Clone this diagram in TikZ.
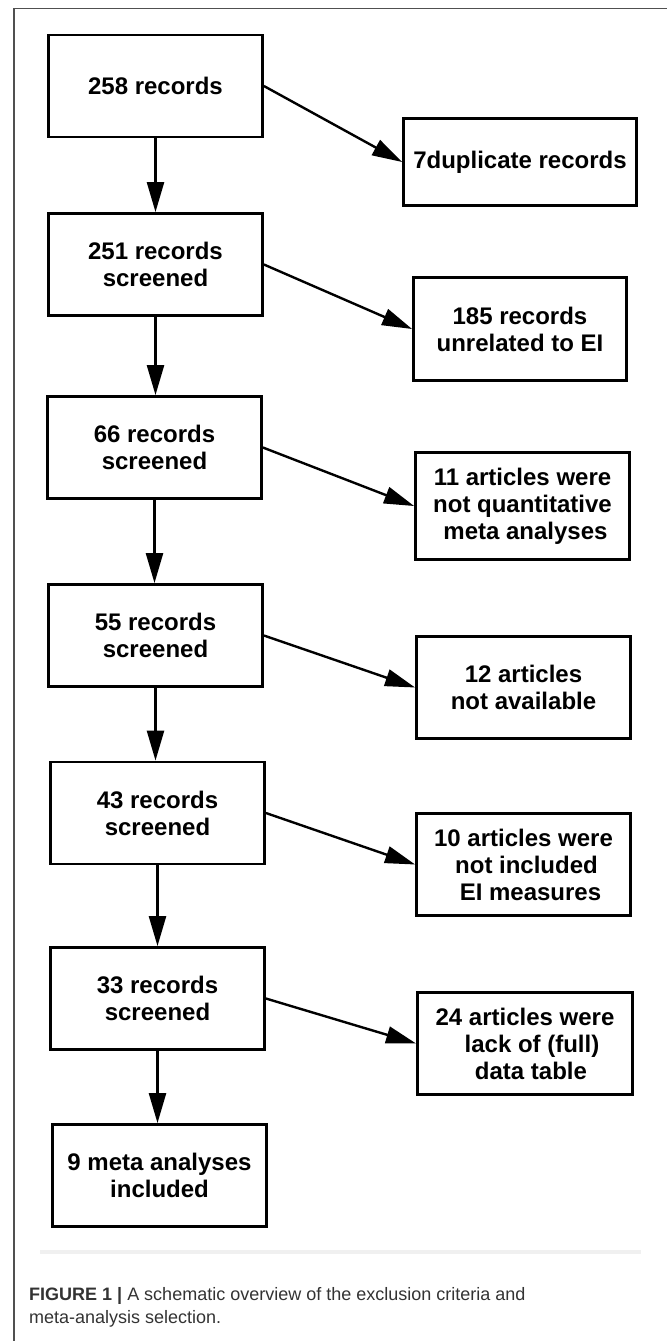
\documentclass[tikz,border=0pt]{standalone}
\usepackage{fontspec}
\setmainfont{Liberation Sans}
\usetikzlibrary{arrows.meta}
\definecolor{framegray}{HTML}{505050}
\definecolor{faintline}{HTML}{F0F0F0}
\definecolor{captext}{HTML}{333333}
\begin{document}
\begin{tikzpicture}[x=1pt,y=-1pt,
  stepbox/.style={draw=black, line width=2.8pt, minimum width=214pt, minimum height=102pt,
    inner sep=0pt, align=center, font=\bfseries\fontsize{24}{27}\selectfont},
  arr/.style={line width=2.4pt, -{Triangle[length=30pt,width=17pt]}},
  captionstyle/.style={anchor=base west, inner sep=0pt, text=captext, font=\fontsize{18}{23}\selectfont},
]
\useasboundingbox (0,0) rectangle (667,1341);
% frame
\draw[framegray, line width=1.5pt] (14,1341) -- (14,8.5) -- (667,8.5);
% left column
\node[stepbox] (b1) at (155.5,86) {258 records};
\node[stepbox] (b2) at (155.5,264.5) {251 records\\screened};
\node[stepbox] (b3) at (154.5,447.5) {66 records\\screened};
\node[stepbox] (b4) at (155.5,635.5) {55 records\\screened};
\node[stepbox] (b5) at (157.5,813) {43 records\\screened};
\node[stepbox] (b6) at (157.5,998.5) {33 records\\screened};
\node[stepbox] (b7) at (159.5,1175.5) {9 meta analyses\\included};
% right column
\node[stepbox, minimum width=233pt, minimum height=87pt] (r1) at (520,162) {7duplicate records};
\node[stepbox, minimum width=213pt, minimum height=103pt] (r2) at (520,329) {185 records\\unrelated to EI};
\node[stepbox, minimum height=107pt] (r3) at (522.5,506) {11 articles were\\not quantitative\\\hspace*{6pt}meta analyses};
\node[stepbox] (r4) at (523.5,687.5) {12 articles\\not available};
\node[stepbox] (r5) at (523.5,864.5) {10 articles were\\\hspace*{6pt}not included\\\hspace*{14pt}EI measures};
\node[stepbox, minimum width=215pt] (r6) at (525,1043.5) {24 articles were\\\hspace*{14pt}lack of (full)\\\hspace*{12pt}data table};
% vertical arrows
\draw[arr] (b1.south) -- (b1.south |- b2.north);
\draw[arr] (b2.south) -- (b2.south |- b3.north);
\draw[arr] (b3.south) -- (b3.south |- b4.north);
\draw[arr] (b4.south) -- (b4.south |- b5.north);
\draw[arr] (b5.south) -- (b5.south |- b6.north);
\draw[arr] (b6.south) -- (b6.south |- b7.north);
% diagonal arrows
\draw[arr] (b1.east) -- (r1.west);
\draw[arr] (b2.east) -- (r2.west);
\draw[arr] (b3.east) -- (r3.west);
\draw[arr] (b4.east) -- (r4.west);
\draw[arr] (b5.east) -- (r5.west);
\draw[arr] (b6.east) -- (r6.west);
% separator and caption
\draw[faintline, line width=4pt] (40,1252) -- (641,1252);
\node[captionstyle] (cap1) at (29,1300) {\textbf{FIGURE 1 |} A schematic overview of the exclusion criteria and};
\node[captionstyle] (cap2) at (29,1323) {meta-analysis selection.};
\end{tikzpicture}
\end{document}
